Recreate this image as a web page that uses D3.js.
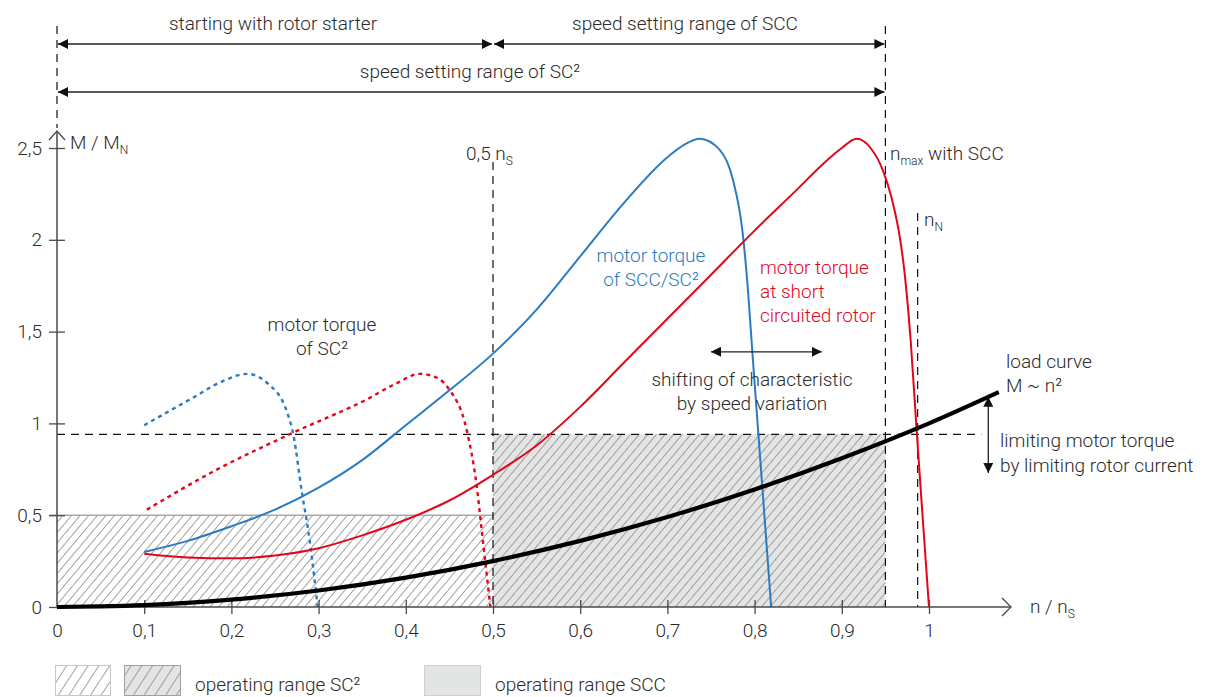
<!DOCTYPE html>
<html>
<head>
<meta charset="utf-8">
<script src="https://cdn.jsdelivr.net/npm/d3@7"></script>
<style>
  html, body { margin: 0; padding: 0; background: #fff; }
  svg text { font-family: Roboto, "Liberation Sans", Arial, sans-serif; font-weight: 300; fill: #2b2b2b; }
</style>
</head>
<body>
<svg id="chart" width="1211" height="697"></svg>
<script>
// ---------- data ----------
const xTicks = [0, 0.1, 0.2, 0.3, 0.4, 0.5, 0.6, 0.7, 0.8, 0.9, 1];
const xTickLabels = ["0", "0,1", "0,2", "0,3", "0,4", "0,5", "0,6", "0,7", "0,8", "0,9", "1"];
const yTicks = [0, 0.5, 1, 1.5, 2, 2.5];
const yTickLabels = ["0", "0,5", "1", "1,5", "2", "2,5"];

// load curve M ~ n^2
const loadN = [0, 0.05, 0.1, 0.2, 0.3, 0.4, 0.5, 0.6, 0.7, 0.8, 0.9, 1.0, 1.08];
const loadM = [0, 0.003, 0.01, 0.04, 0.09, 0.16, 0.25, 0.36, 0.49, 0.64, 0.81, 1.0, 1.17];

// motor torque of SCC/SC² (blue solid)
const sccN = [0.1, 0.15, 0.2, 0.25, 0.3, 0.35, 0.4, 0.45, 0.5, 0.55, 0.6, 0.65, 0.7, 0.72, 0.737, 0.76, 0.775, 0.786, 0.792, 0.798, 0.805, 0.812, 0.819];
const sccM = [0.30, 0.36, 0.44, 0.53, 0.65, 0.80, 0.99, 1.18, 1.38, 1.62, 1.91, 2.20, 2.45, 2.52, 2.55, 2.49, 2.33, 2.05, 1.75, 1.35, 0.90, 0.45, 0];

// motor torque at short circuited rotor (red solid)
const scrN = [0.1, 0.15, 0.2, 0.25, 0.3, 0.35, 0.4, 0.45, 0.5, 0.55, 0.6, 0.65, 0.7, 0.75, 0.8, 0.85, 0.88, 0.9, 0.917, 0.933, 0.947, 0.957, 0.967, 0.972, 0.979, 0.986, 0.993, 1.0];
const scrM = [0.29, 0.27, 0.265, 0.28, 0.32, 0.39, 0.475, 0.58, 0.72, 0.88, 1.09, 1.33, 1.57, 1.81, 2.05, 2.28, 2.42, 2.50, 2.55, 2.50, 2.38, 2.23, 2.00, 1.82, 1.45, 0.95, 0.47, 0];

// motor torque of SC² (blue dotted)
const sc2BlueN = [0.1, 0.156, 0.19, 0.218, 0.241, 0.264, 0.271, 0.281, 0.288, 0.299];
const sc2BlueM = [0.99, 1.14, 1.23, 1.27, 1.22, 1.06, 0.94, 0.62, 0.42, 0];

// motor torque of SC² (red dotted)
const sc2RedN = [0.103, 0.18, 0.271, 0.355, 0.39, 0.416, 0.435, 0.449, 0.47, 0.481, 0.487, 0.497];
const sc2RedM = [0.53, 0.74, 0.95, 1.13, 1.22, 1.27, 1.25, 1.19, 0.96, 0.67, 0.42, 0];

// reference levels
const halfNs = 0.5;       // 0,5 nS
const nMaxSCC = 0.95;     // nmax with SCC
const nN = 0.987;         // nN
const limitTorque = 0.94; // limiting motor torque
const sc2RangeTop = 0.5;

// ---------- scales ----------
const svg = d3.select("#chart");
const x = d3.scaleLinear().domain([0, 1]).range([57, 929]);
const y = d3.scaleLinear().domain([0, 2.5]).range([607, 148]);

const BLUE = "#2a7bc0", RED = "#e3051b";
const FS = 19;

// ---------- defs: patterns and markers ----------
const defs = svg.append("defs");
function hatch(id, w, angle, color) {
  const p = defs.append("pattern").attr("id", id).attr("patternUnits", "userSpaceOnUse")
    .attr("width", w).attr("height", w).attr("patternTransform", `rotate(${angle})`);
  p.append("line").attr("x1", w / 2).attr("y1", -1).attr("x2", w / 2).attr("y2", w + 1)
    .attr("stroke", color).attr("stroke-width", 0.8);
}
hatch("hatch", 6.6, 40, "#8c8c8c");
hatch("hatchLeg", 9, 33, "#8c8c8c");

defs.append("marker").attr("id", "tri").attr("viewBox", "0 0 10 10")
  .attr("refX", 10).attr("refY", 5).attr("markerWidth", 10).attr("markerHeight", 10)
  .attr("markerUnits", "userSpaceOnUse").attr("orient", "auto-start-reverse")
  .append("path").attr("d", "M0,0 L10,5 L0,10 z").attr("fill", "#111");

// ---------- operating ranges ----------
svg.append("rect").attr("x", x(0)).attr("y", y(sc2RangeTop))
  .attr("width", x(halfNs) - x(0)).attr("height", y(0) - y(sc2RangeTop))
  .attr("fill", "url(#hatch)");
svg.append("line").attr("x1", x(0) - 8).attr("x2", x(halfNs)).attr("y1", y(sc2RangeTop)).attr("y2", y(sc2RangeTop))
  .attr("stroke", "#a8a8a8").attr("stroke-width", 1.5);

svg.append("rect").attr("x", x(halfNs)).attr("y", y(limitTorque))
  .attr("width", x(nMaxSCC) - x(halfNs)).attr("height", y(0) - y(limitTorque))
  .attr("fill", "#e3e4e4");
svg.append("rect").attr("x", x(halfNs)).attr("y", y(limitTorque))
  .attr("width", x(nMaxSCC) - x(halfNs)).attr("height", y(0) - y(limitTorque))
  .attr("fill", "url(#hatch)");

// ---------- dashed reference lines ----------
const dash = "8,6";
const dl = (x1, y1, x2, y2) => svg.append("line").attr("x1", x1).attr("y1", y1).attr("x2", x2).attr("y2", y2)
  .attr("stroke", "#111").attr("stroke-width", 1.2).attr("stroke-dasharray", dash);
dl(x(0), 26, x(0), 128);
dl(x(halfNs), 162, x(halfNs), y(0));
dl(x(nMaxSCC), 26, x(nMaxSCC), y(0));
dl(x(nN), 213, x(nN), y(0));
dl(x(0), y(limitTorque), x(1.06), y(limitTorque));

// ---------- curves ----------
const line = d3.line().x(d => x(d[0])).y(d => y(d[1])).curve(d3.curveMonotoneX);
const zip = (a, b) => a.map((v, i) => [v, b[i]]);

svg.append("path").attr("d", line(zip(sc2BlueN, sc2BlueM))).attr("fill", "none")
  .attr("stroke", BLUE).attr("stroke-width", 2.4).attr("stroke-dasharray", "4,4");
svg.append("path").attr("d", line(zip(sc2RedN, sc2RedM))).attr("fill", "none")
  .attr("stroke", RED).attr("stroke-width", 2.4).attr("stroke-dasharray", "4,4");
svg.append("path").attr("d", line(zip(sccN, sccM))).attr("fill", "none")
  .attr("stroke", BLUE).attr("stroke-width", 2);
svg.append("path").attr("d", line(zip(scrN, scrM))).attr("fill", "none")
  .attr("stroke", RED).attr("stroke-width", 2);

// ---------- axes ----------
const AX = "#4a4a4a";
const yAxis = d3.axisLeft(y).tickValues(yTicks).tickSize(8).tickFormat((d, i) => yTickLabels[i]);
const gy = svg.append("g").attr("transform", `translate(${x(0)},0)`).call(yAxis);
gy.select(".domain").remove();
gy.selectAll(".tick line").attr("x1", -8).attr("x2", 8).attr("stroke", AX).attr("stroke-width", 1.3);
gy.selectAll(".tick text").attr("x", -15).style("font-size", FS + "px").style("font-family", null);

const xAxis = d3.axisBottom(x).tickValues(xTicks).tickSize(7).tickFormat((d, i) => xTickLabels[i]);
const gx = svg.append("g").attr("transform", `translate(0,${y(0)})`).call(xAxis);
gx.select(".domain").remove();
gx.selectAll(".tick line").attr("y1", -7).attr("y2", 7).attr("stroke", AX).attr("stroke-width", 1.3);
gx.selectAll(".tick").filter(d => d === 0).select("line").remove();
gx.selectAll(".tick text").attr("y", 17).style("font-size", FS + "px").style("font-family", null);

svg.append("line").attr("x1", x(0)).attr("y1", y(0)).attr("x2", x(0)).attr("y2", 131)
  .attr("stroke", AX).attr("stroke-width", 1.5);
svg.append("path").attr("d", `M${x(0) - 8},${140} L${x(0)},${131} L${x(0) + 8},${140}`)
  .attr("fill", "none").attr("stroke", AX).attr("stroke-width", 1.3);
svg.append("line").attr("x1", x(0)).attr("y1", y(0)).attr("x2", 1011).attr("y2", y(0))
  .attr("stroke", AX).attr("stroke-width", 1.5);
svg.append("path").attr("d", `M1002,${y(0) - 9} L1011,${y(0)} L1002,${y(0) + 9}`)
  .attr("fill", "none").attr("stroke", AX).attr("stroke-width", 1.3);

svg.append("path").attr("d", line(zip(loadN, loadM))).attr("fill", "none")
  .attr("stroke", "#000").attr("stroke-width", 4.2);

// ---------- arrows ----------
const arrow = (x1, y1, x2, y2) => svg.append("line").attr("x1", x1).attr("y1", y1).attr("x2", x2).attr("y2", y2)
  .attr("stroke", "#222").attr("stroke-width", 1.3)
  .attr("marker-start", "url(#tri)").attr("marker-end", "url(#tri)");
arrow(x(0) + 1, 44, x(halfNs) - 1, 44);
arrow(x(halfNs) + 1, 44, x(nMaxSCC) - 1, 44);
arrow(x(0) + 1, 92, x(nMaxSCC) - 1, 92);
arrow(x(0.75), y(1.39), x(0.877), y(1.39));
arrow(x(1.068), y(1.145), x(1.068), y(0.73));

// ---------- texts ----------
function txt(xp, yp, parts, opts = {}) {
  const t = svg.append("text").attr("x", xp).attr("y", yp)
    .attr("text-anchor", opts.anchor || "start").style("font-size", (opts.size || FS) + "px");
  if (opts.color) t.style("fill", opts.color);
  parts.forEach(p => {
    if (typeof p === "string") t.append("tspan").text(p);
    else {
      t.append("tspan").text(p.sub).style("font-size", "12px").attr("dy", 5);
      if (p.after) t.append("tspan").attr("dy", -5).text(p.after);
    }
  });
  return t;
}
txt(273, 30, ["starting with rotor starter"], { anchor: "middle" });
txt(685, 30, ["speed setting range of SCC"], { anchor: "middle" });
txt(470, 78, ["speed setting range of SC\u00b2"], { anchor: "middle" });

txt(70, 149, ["M / M", { sub: "N" }]);
txt(466, 160, ["0,5 n", { sub: "S" }]);
txt(890, 160, ["n", { sub: "max", after: " with SCC" }]);
txt(924, 226, ["n", { sub: "N" }]);
txt(1030, 613, ["n / n", { sub: "S" }]);

txt(651, 262, ["motor torque"], { anchor: "middle", color: BLUE });
txt(651, 286, ["of SCC/SC\u00b2"], { anchor: "middle", color: BLUE });

txt(760, 274, ["motor torque"], { color: RED });
txt(760, 298, ["at short"], { color: RED });
txt(760, 322, ["circuited rotor"], { color: RED });

txt(322, 331, ["motor torque"], { anchor: "middle" });
txt(322, 355, ["of SC\u00b2"], { anchor: "middle" });

txt(752, 386, ["shifting of characteristic"], { anchor: "middle" });
txt(752, 410, ["by speed variation"], { anchor: "middle" });

txt(1006, 368, ["load curve"]);
txt(1006, 392, ["M ~ n\u00b2"]);

txt(1000, 447, ["limiting motor torque"]);
txt(1000, 472, ["by limiting rotor current"]);

// ---------- legend ----------
svg.append("rect").attr("x", 55.5).attr("y", 665.5).attr("width", 55).attr("height", 30)
  .attr("fill", "url(#hatchLeg)").attr("stroke", "#c8c8c8");
svg.append("rect").attr("x", 124.5).attr("y", 665.5).attr("width", 56).attr("height", 30)
  .attr("fill", "#e3e4e4").attr("stroke", "#a0a0a0");
svg.append("rect").attr("x", 124.5).attr("y", 665.5).attr("width", 56).attr("height", 30)
  .attr("fill", "url(#hatchLeg)").attr("stroke", "#a0a0a0");
svg.append("rect").attr("x", 424.5).attr("y", 665.5).attr("width", 56).attr("height", 30)
  .attr("fill", "#e3e4e4").attr("stroke", "#cfcfcf");
txt(195, 691, ["operating range SC\u00b2"]);
txt(495, 691, ["operating range SCC"]);
</script>
</body>
</html>
